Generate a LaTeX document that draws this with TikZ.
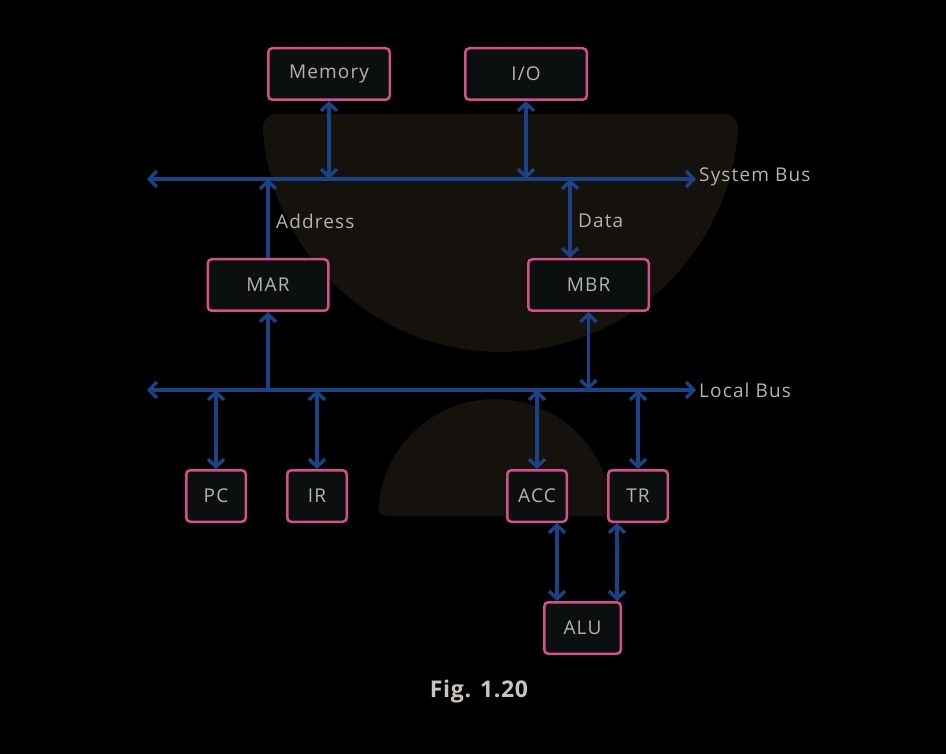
\documentclass[tikz,border=0pt]{standalone}
\usepackage{fontspec}
\setmainfont{Open Sans}[LetterSpace=6]
\newfontfamily\capfont{Open Sans}[LetterSpace=3]
\usetikzlibrary{arrows.meta}
\definecolor{bgdark}{HTML}{000000}
\definecolor{blob}{HTML}{15110D}
\definecolor{boxfill}{HTML}{0B100F}
\definecolor{boxedge}{HTML}{D4508C}
\definecolor{busblue}{HTML}{1C4286}
\definecolor{txtgray}{HTML}{B5B3AB}
\definecolor{figtxt}{HTML}{CBC4BA}
\tikzset{
  unit/.style={draw=boxedge, fill=boxfill, line width=2.5pt, rounded corners=4pt,
    minimum height=51.5pt, inner sep=0pt, text=txtgray,
    font=\fontsize{19}{21}\selectfont},
  bus/.style={draw=busblue, line width=3.4pt},
  link/.style={draw=busblue, line width=3.4pt},
  lbl/.style={text=txtgray, font=\fontsize{19}{21}\selectfont, inner sep=0pt},
  >={Straight Barb[length=7.5pt,width=16pt]}
}
\begin{document}
\begin{tikzpicture}[x=1pt,y=-1pt]
\useasboundingbox (0,0) rectangle (946,754);
\fill[bgdark] (0,0) rectangle (946,754);
% background blobs
\fill[blob] (276,114) -- (724,114) to[out=0,in=90] (738,128) arc[start angle=3.4,end angle=176.6,radius=238] to[out=90,in=180] (276,114) -- cycle;
\fill[blob] (386,516) -- (612,516) arc[start angle=0,end angle=-180,radius=117] -- (378,508) to[out=270,in=180] (386,516) -- cycle;
% bus coordinates
\coordinate (sbL) at (147,179);
\coordinate (sbR) at (696,179);
\coordinate (lbL) at (147,390);
\coordinate (lbR) at (696,390);
% units
\node[unit, minimum width=121.5pt] (mem) at (329,74) {Memory};
\node[unit, minimum width=121.5pt] (io) at (526,74) {I/O};
\node[unit, minimum width=120.5pt] (mar) at (268,285) {MAR};
\node[unit, minimum width=120.5pt] (mbr) at (588.5,285) {MBR};
\node[unit, minimum width=59.5pt] (pc) at (216,496) {PC};
\node[unit, minimum width=59.5pt] (ir) at (317,496) {IR};
\node[unit, minimum width=59.5pt] (acc) at (537,496) {ACC};
\node[unit, minimum width=59.5pt] (tr) at (638,496) {TR};
\node[unit, minimum width=76.5pt] (alu) at (582.5,628) {ALU};
% buses
\draw[bus,<->] (sbL) -- (sbR);
\draw[bus,<->] (lbL) -- (lbR);
\node[lbl, anchor=west] (sblbl) at (699,177) {System Bus};
\node[lbl, anchor=west] (lblbl) at (699,390) {Local Bus};
% system side
\draw[link,<->] (mem.south) -- (mem.south |- sbL);
\draw[link,<->] (io.south) -- (io.south |- sbL);
\draw[link,->] (mar.north) -- (mar.north |- sbL);
\coordinate (dtop) at (570,179);
\draw[link,<->] (dtop) -- (dtop |- mbr.north);
\node[lbl, anchor=west] (addr) at (276,221) {Address};
\node[lbl, anchor=west] (data) at (578,221) {Data};
% local side
\draw[link,->] (mar.south |- lbL) -- (mar.south);
\draw[link,<->] (mbr.south) -- (mbr.south |- lbL);
\draw[link,<->] (pc.north |- lbL) -- (pc.north);
\draw[link,<->] (ir.north |- lbL) -- (ir.north);
\draw[link,<->] (acc.north |- lbL) -- (acc.north);
\draw[link,<->] (tr.north |- lbL) -- (tr.north);
% ALU links
\coordinate (aluA) at (557,523);
\coordinate (aluB) at (617,523);
\draw[link,<->] (aluA) -- (aluA |- alu.north);
\draw[link,<->] (aluB) -- (aluB |- alu.north);
% caption
\node[text=figtxt, font=\capfont\bfseries\fontsize{23}{26}\selectfont] (cap) at (479,692) {Fig. 1.20};
\end{tikzpicture}
\end{document}
